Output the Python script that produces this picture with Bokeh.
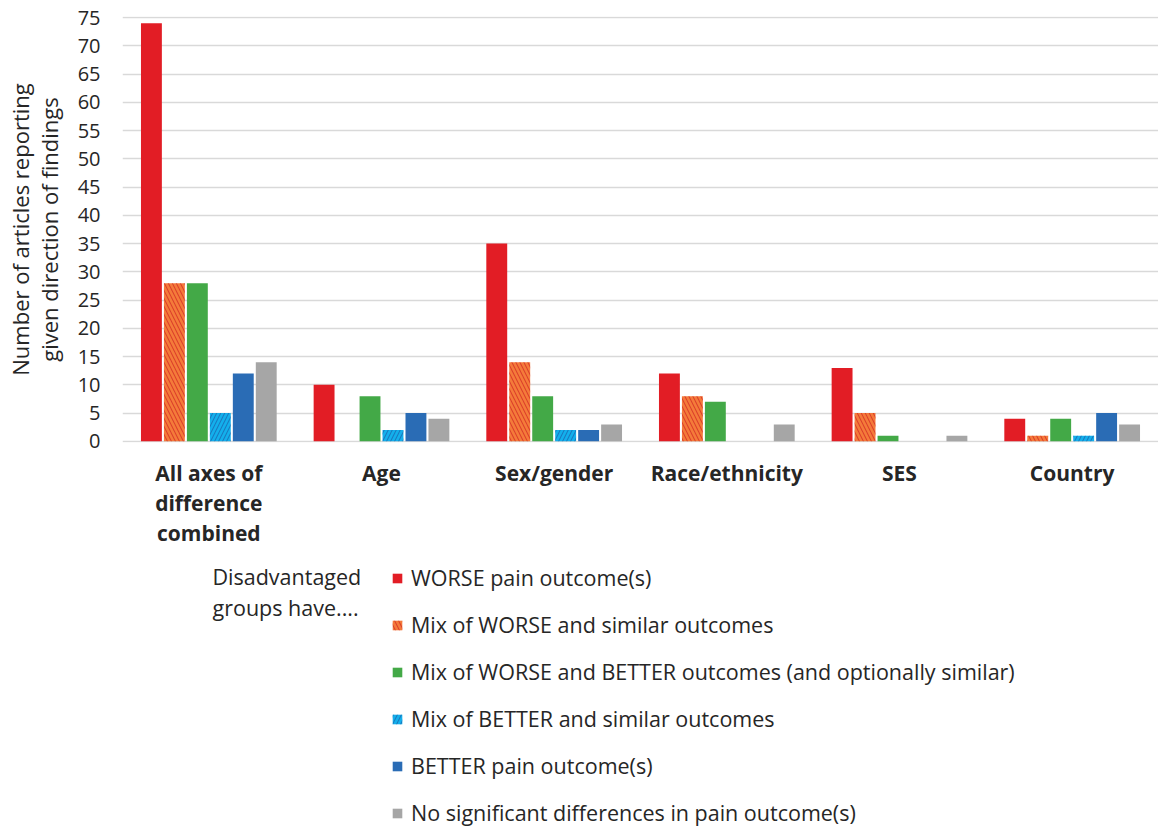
from bokeh.plotting import figure
from bokeh.layouts import column
from bokeh.models import FactorRange, Range1d, Legend, LegendItem, Label, FixedTicker, ColumnDataSource
from bokeh.transform import dodge
from bokeh.embed import file_html
from bokeh.resources import INLINE

# Axes of difference (category labels as shown under the bars)
categories = ["All axes of\ndifference\ncombined", "Age", "Sex/gender",
              "Race/ethnicity", "SES", "Country"]

# Number of articles per direction of findings
worse = [74, 10, 35, 12, 13, 4]
worse_similar = [28, 0, 14, 8, 5, 1]
worse_better = [28, 8, 8, 7, 1, 4]
better_similar = [5, 2, 2, 0, 0, 1]
better = [12, 5, 2, 0, 0, 5]
no_difference = [14, 4, 3, 3, 1, 3]

series_names = [
    "WORSE pain outcome(s)",
    "Mix of WORSE and similar outcomes",
    "Mix of WORSE and BETTER outcomes (and optionally similar)",
    "Mix of BETTER and similar outcomes",
    "BETTER pain outcome(s)",
    "No significant differences in pain outcome(s)",
]
y_ticks = list(range(0, 80, 5))

FONT = "Open Sans"
TEXT = "#262626"

columns = ["worse", "worse_similar", "worse_better", "better_similar", "better", "no_difference"]
colors = ["#e21d25", "#f47b3a", "#43a947", "#13b0ec", "#2a6cb5", "#a6a6a6"]
hatches = [None, "\\", None, "/", None, None]
hatch_colors = [None, "#c8101e", None, "#1c4f9c", None, None]


def bar_style(i):
    style = dict(fill_color=colors[i], line_color=None)
    if hatches[i]:
        style.update(hatch_pattern=hatches[i], hatch_color=hatch_colors[i],
                     hatch_scale=8, hatch_weight=1.1, hatch_alpha=0.55)
    return style


source = ColumnDataSource(dict(
    cat=categories, worse=worse, worse_similar=worse_similar,
    worse_better=worse_better, better_similar=better_similar,
    better=better, no_difference=no_difference,
))

# ---- main bar chart ----
TOP_H = 561
p = figure(
    width=1158, height=TOP_H,
    x_range=FactorRange(factors=categories, range_padding=0),
    y_range=Range1d(-0.2, 75.2),
    output_backend="svg", toolbar_location=None,
    min_border_left=122, min_border_right=0,
    min_border_top=16, min_border_bottom=119,
)
p.outline_line_color = None

step = 0.133
width = 0.121
for i, col in enumerate(columns):
    p.vbar(x=dodge("cat", (i - 2.5) * step, range=p.x_range), top=col, bottom=0,
           width=width, source=source, **bar_style(i))

p.xgrid.grid_line_color = None
p.ygrid.grid_line_color = "#d9d9d9"
p.ygrid.grid_line_width = 1.5
p.ygrid.ticker = FixedTicker(ticks=y_ticks)

yax = p.yaxis[0]
yax.ticker = FixedTicker(ticks=y_ticks)
yax.axis_line_color = None
yax.major_tick_line_color = None
yax.minor_tick_line_color = None
yax.major_tick_in = 0
yax.major_tick_out = 0
yax.major_label_text_font = FONT
yax.major_label_text_font_size = "20px"
yax.major_label_text_color = TEXT
yax.major_label_standoff = 22
yax.axis_label = "Number of articles reporting\ngiven direction of findings"
yax.axis_label_text_font = FONT
yax.axis_label_text_font_size = "22px"
yax.axis_label_text_font_style = "normal"
yax.axis_label_text_color = TEXT
yax.axis_label_text_line_height = 0.95
yax.axis_label_standoff = 11

xax = p.xaxis[0]
xax.axis_line_color = None
xax.major_tick_line_color = None
xax.minor_tick_line_color = None
xax.major_tick_in = 0
xax.major_tick_out = 0
xax.major_label_text_font = FONT
xax.major_label_text_font_size = "21px"
xax.major_label_text_font_style = "bold"
xax.major_label_text_color = TEXT
xax.major_label_text_line_height = 1.08
xax.major_label_standoff = 16

# ---- legend panel ----
LEG_H = 829 - TOP_H
leg = figure(
    width=1158, height=LEG_H, x_range=Range1d(0, 1), y_range=Range1d(0, 1),
    output_backend="svg", toolbar_location=None,
    min_border_left=122, min_border_right=0,
    min_border_top=0, min_border_bottom=0,
)
leg.axis.visible = False
leg.grid.visible = False
leg.outline_line_color = None

# one off-range bar per series so each key swatch carries that series' style
key_renderers = [leg.vbar(x=[-10], top=[-10], width=0.1, **bar_style(i)) for i in range(len(columns))]

legend = Legend(
    items=[LegendItem(label=n, renderers=[r]) for n, r in zip(series_names, key_renderers)],
    location=(269, 2), orientation="vertical",
    border_line_color=None, background_fill_alpha=0,
    padding=0, margin=0, spacing=18,
    glyph_width=12, glyph_height=12, label_standoff=8, label_height=20,
    label_text_font=FONT, label_text_font_size="21.5px", label_text_color=TEXT,
)
leg.add_layout(legend)

leg.add_layout(Label(
    x=90, y=LEG_H, x_units="screen", y_units="screen",
    text="Disadvantaged\ngroups have....", text_baseline="top", text_align="left",
    text_font=FONT, text_font_size="21.5px", text_color=TEXT, text_line_height=1.1,
))

layout = column(p, leg, spacing=0)
open("out.html", "w").write(file_html(layout, INLINE))
